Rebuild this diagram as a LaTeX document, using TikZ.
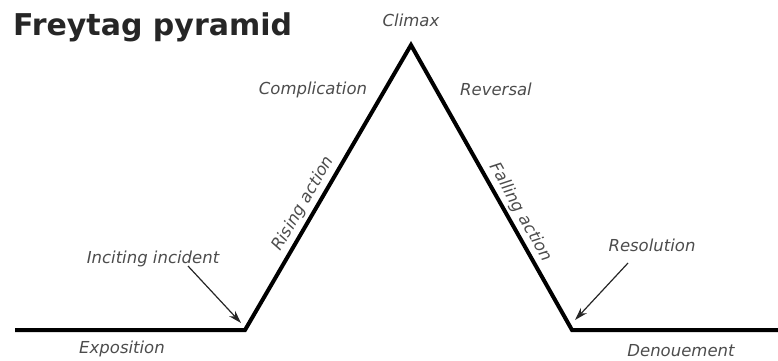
\documentclass[tikz,border=0pt]{standalone}
\usepackage{fontspec}
\setmainfont{DejaVu Sans}
\usetikzlibrary{arrows.meta}
\tikzset{
  lbl/.style={font=\fontsize{16.5}{18}\selectfont\itshape, text=black!70, inner sep=0pt, anchor=base},
  slbl/.style={font=\fontsize{16.5}{18}\selectfont\itshape, text=black!70, inner sep=3pt, sloped, above},
  plot/.style={line width=4pt, line join=miter, black},
  pointer/.style={line width=1.2pt, -{Stealth[length=13pt,width=8pt]}, black!85}
}
\begin{document}
\begin{tikzpicture}[x=1pt,y=-1pt]
\useasboundingbox (0,0) rectangle (778,360);
\node[anchor=base west, inner sep=0pt, font=\fontsize{30}{34}\selectfont\bfseries, text=black!85] (title) at (13,35) {Freytag pyramid};
\coordinate (start) at (15,330);
\coordinate (footL) at (245,330);
\coordinate (peak) at (411,45);
\coordinate (footR) at (572,330);
\coordinate (end) at (778,330);
\draw[plot] (start) -- (footL)
  -- node[slbl, pos=0.42] (rising) {Rising action} (peak)
  -- node[slbl, pos=0.61] (falling) {Falling action} (footR) -- (end);
\node[lbl] (climax) at (411,26) {Climax};
\node[lbl] (compl) at (313,94) {Complication};
\node[lbl] (rev) at (496,95) {Reversal};
\node[lbl] (incit) at (153,263) {Inciting incident};
\node[lbl] (expo) at (122,353) {Exposition};
\node[lbl] (resol) at (652,251) {Resolution};
\node[lbl] (denou) at (681,356) {Denouement};
\coordinate (a1s) at (188,266);
\coordinate (a1e) at (241,323);
\coordinate (a2s) at (628,263);
\coordinate (a2e) at (575,320);
\draw[pointer] (a1s) -- (a1e);
\draw[pointer] (a2s) -- (a2e);
\end{tikzpicture}
\end{document}
